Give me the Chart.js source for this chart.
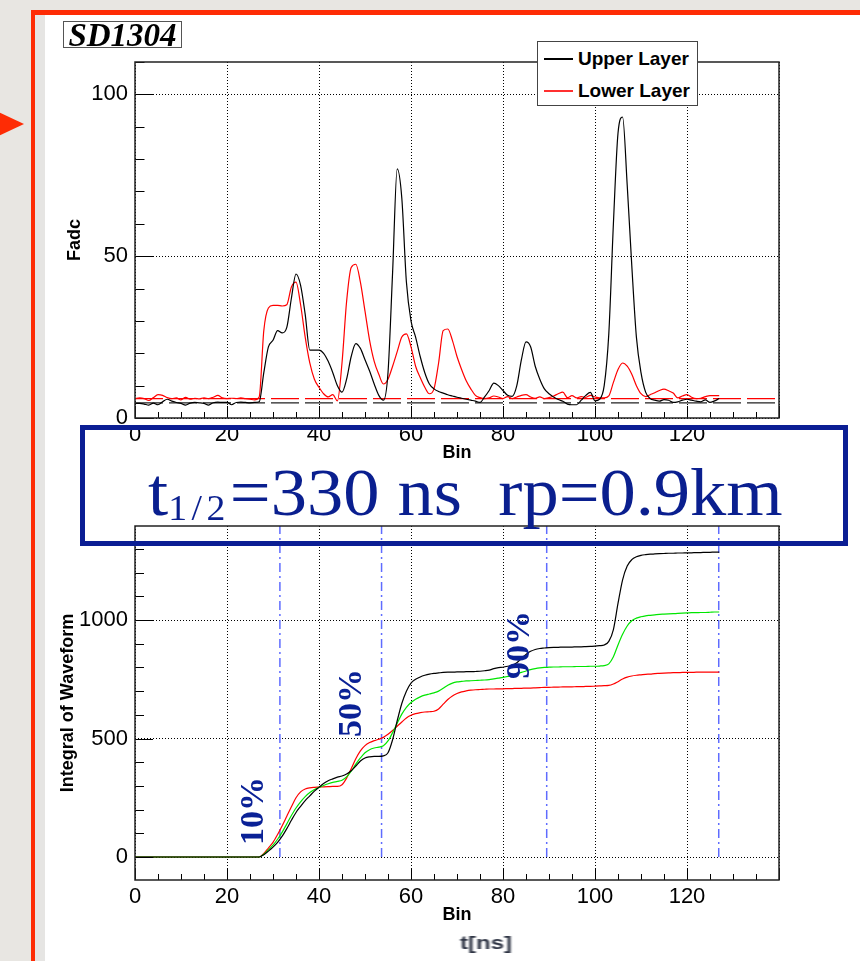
<!DOCTYPE html>
<html>
<head>
<meta charset="utf-8">
<script src="https://cdn.jsdelivr.net/npm/chart.js@4.4.1/dist/chart.umd.min.js"></script>
<style>
body { margin: 0; width: 860px; height: 961px; overflow: hidden; background: #e8e6e2; position: relative; font-family: "Liberation Sans", Arial, sans-serif; }
.abs { position: absolute; }
#paper { left: 35px; top: 15px; width: 825px; height: 946px; background: #fff; }
#strip { left: 35px; top: 15px; width: 10px; height: 946px; background: #e6e5e3; }
#redTop { left: 31px; top: 10px; width: 829px; height: 5px; background: #fe2c05; }
#redLeft { left: 31px; top: 10px; width: 4px; height: 951px; background: #fe2c05; }
#arrow { left: -6px; top: 110px; width: 30px; height: 28px; background: #fe2c05; clip-path: polygon(0 0, 100% 50%, 0 100%); }
canvas { position: absolute; left: 0; }
#sd { left: 63px; top: 21px; width: 117px; height: 25px; border: 1.5px solid #555; font: italic bold 33px "Liberation Serif", serif; line-height: 27px; text-align: center; color: #000; }
#legend { left: 537px; top: 41px; width: 159px; height: 63px; border: 1.5px solid #444; background: #fff; }
.lg-line { position: absolute; left: 6px; width: 29px; height: 1.5px; }
.lg-text { position: absolute; left: 40px; font: bold 19px "Liberation Sans", Arial, sans-serif; line-height: 20px; color: #000; white-space: nowrap; }
#box { left: 80px; top: 425px; width: 758px; height: 111px; border: 5px solid #0b1e94; }
#big { left: 148px; top: 459px; font: 67px "Liberation Serif", serif; line-height: 67px; color: #0a1f8f; white-space: pre; transform-origin: 0 0; }
#big sub { font-size: 0.52em; letter-spacing: 0.12em; vertical-align: baseline; position: relative; top: 0.15em; }
#tns { left: 460px; top: 933px; font: bold 18px "Liberation Sans", Arial, sans-serif; color: #2e3444; filter: blur(0.7px); transform-origin: 0 0; white-space: pre; }
</style>
</head>
<body>
<div id="paper" class="abs"></div>
<div id="strip" class="abs"></div>
<div id="redTop" class="abs"></div>
<div id="redLeft" class="abs"></div>
<div id="arrow" class="abs"></div>

<canvas id="chartTop" width="860" height="470" style="top:0"></canvas>
<canvas id="chartBottom" width="860" height="491" style="top:470px"></canvas>

<div id="sd" class="abs">SD1304</div>
<div id="legend" class="abs">
  <div class="lg-line" style="top:16px;background:#000"></div>
  <div class="lg-text" style="top:7px">Upper Layer</div>
  <div class="lg-line" style="top:48px;background:#ff3030"></div>
  <div class="lg-text" style="top:39px">Lower Layer</div>
</div>
<div id="box" class="abs"></div>
<div id="big" class="abs">t<sub>1/2</sub>=330 ns  rp=0.9km</div>
<div id="tns" class="abs">t[ns]</div>

<script>
// ---- data ----
const bins = Array.from({ length: 128 }, (_, i) => i);

// FADC traces (top panel)
const upperLayer = [
  4.5, 4.5, 4.3, 4.0, 4.6, 4.1, 5.0, 5.8, 5.2, 4.8,
  4.5, 4.0, 4.6, 4.8, 4.7, 4.5, 4.0, 4.7, 4.9, 4.8,
  4.8, 4.1, 4.8, 4.9, 4.8, 4.7, 4.8, 5.0, 14, 22,
  24, 27, 26.3, 28, 37, 44.5, 41, 32, 21, 21,
  21, 20, 17.5, 14, 10, 8, 12, 19, 23, 21.5,
  18, 14.5, 10.5, 7, 5.5, 14, 45, 77, 68, 42,
  30, 25, 19, 14, 10.5, 9, 8.2, 7.7, 7.2, 6.8,
  6.4, 6.1, 5.8, 5.5, 5.2, 4.8, 6.5, 8.5, 10.8, 10,
  8.5, 7, 6.7, 10, 18, 23.5, 22, 16, 12, 9,
  7.5, 6.5, 5.7, 5.2, 4.3, 4.1, 4.1, 5.5, 7, 7.9,
  5.3, 5.8, 10, 26, 60, 88, 93, 72, 47, 25,
  14, 8, 6, 5.5, 5.2, 5.7, 5.5, 4.8, 5, 5.5,
  5.8, 5.5, 5.2, 5.0, 5.6, 4.8, 5.3, 6
];
const lowerLayer = [
  6.0, 6.2, 6.0, 5.4, 6.3, 7.2, 7.0, 6.3, 6.0, 6.2,
  5.6, 6.4, 5.8, 6.1, 5.9, 6.2, 6.0, 6.4, 7.0, 6.2,
  6.0, 6.1, 6.0, 6.2, 6.0, 5.8, 5.6, 6.5, 27, 34,
  34.8, 34.8, 34.6, 35, 40.5, 42, 35, 25, 17, 12,
  9.5, 7.5, 6.5, 7.2, 5.3, 17, 36, 46.5, 47.5, 42,
  33, 24, 17.5, 13.5, 10.5, 12, 16, 20.5, 25, 26,
  22, 16, 12.5, 9.5, 7.5, 9, 17, 27, 27.5, 24,
  19, 15, 11.5, 9, 7, 6.3, 6.0, 6.2, 6.8, 6.5,
  6.0, 6.6, 6.0, 6.5, 7.0, 7.2, 6.5, 6.1, 6.5, 6.0,
  6.3, 6.8, 7.5, 8.0, 6.3, 6.9, 6.2, 6.6, 6.4, 7.0,
  6.5, 6.2, 6.2, 6.8, 11, 15, 17, 16, 13.5, 10,
  7.5, 6.6, 7.2, 7.8, 8.5, 8.9, 8.4, 7.7, 6.2, 6.8,
  7.2, 6.4, 6.0, 6.1, 6.6, 6.9, 6.9, 6.9
];
const baselineUpper = 4.7;
const baselineLower = 6.0;

// integrals (bottom panel)
const intUpper = [
  0, 0, 0, 0, 0, 0, 0, 0, 0, 0,
  0, 0, 0, 0, 0, 0, 0, 0, 0, 0,
  0, 0, 0, 0, 0, 0, 0, 0, 10, 25,
  42, 62, 88, 120, 155, 188, 214, 238, 258, 278,
  294, 310, 322, 330, 337, 342, 350, 364, 384, 405,
  418, 423, 425, 425, 427, 440, 495, 575, 648, 700,
  734, 750, 760, 767, 772, 775, 777, 779, 780, 780,
  781, 781, 782, 782, 783, 784, 786, 789, 795, 799,
  801, 805, 810, 820, 838, 855, 868, 876, 880, 882,
  884, 885, 885, 886, 886, 886, 887, 887, 888, 889,
  890, 892, 895, 910, 960, 1070, 1170, 1228, 1255, 1267,
  1273, 1276, 1278, 1279, 1280, 1281, 1282, 1282, 1283, 1283,
  1284, 1284, 1285, 1285, 1286, 1286, 1287, 1287
];
const intMean = [
  0, 0, 0, 0, 0, 0, 0, 0, 0, 0,
  0, 0, 0, 0, 0, 0, 0, 0, 0, 0,
  0, 0, 0, 0, 0, 0, 0, 0, 12, 30,
  50, 75, 105, 140, 175, 207, 233, 255, 272, 285,
  294, 302, 309, 315, 319, 324, 338, 362, 392, 418,
  440, 453, 460, 464, 470, 490, 525, 565, 603, 632,
  652, 666, 676, 683, 688, 693, 700, 712, 725, 734,
  739, 741, 743, 744, 745, 746, 747, 749, 752, 755,
  758, 762, 766, 772, 779, 785, 791, 795, 798, 800,
  801, 802, 802, 803, 803, 803, 804, 804, 804, 805,
  805, 806, 808, 815, 845, 895, 940, 975, 997, 1008,
  1014, 1018, 1020, 1022, 1024, 1025, 1026, 1027, 1028, 1029,
  1030, 1031, 1031, 1032, 1032, 1033, 1034, 1034
];
const intLower = [
  0, 0, 0, 0, 0, 0, 0, 0, 0, 0,
  0, 0, 0, 0, 0, 0, 0, 0, 0, 0,
  0, 0, 0, 0, 0, 0, 0, 0, 15, 38,
  62, 95, 132, 172, 212, 250, 275, 287, 292, 294,
  295, 296, 297, 298, 298, 305, 333, 373, 415, 448,
  470, 483, 491, 497, 505, 518, 534, 552, 570, 587,
  598, 605, 609, 612, 613, 615, 625, 645, 665, 680,
  690, 697, 701, 704, 706, 707, 708, 709, 709, 710,
  710, 711, 711, 712, 712, 713, 713, 714, 715, 716,
  716, 717, 717, 718, 718, 718, 719, 719, 720, 720,
  721, 722, 723, 724, 730, 740, 751, 759, 764, 767,
  769, 771, 772, 774, 775, 776, 777, 778, 778, 779,
  779, 779, 780, 780, 780, 780, 780, 780
];

// 10% / 50% / 90% / 100% marker bins and their labels
const markerBins = [31.5, 53.6, 89.5, 126.9];
const pctLabels = ['10%', '50%', '90%'];
const pctBins = [26.0, 47.3, 83.7];
const pctValues = [194, 650, 895];

// axis ranges and ticks
const binMin = 0, binMax = 140, binMinor = 5;
const binTicks = [0, 20, 40, 60, 80, 100, 120, 140];
const fadcMin = 0, fadcMax = 110, fadcMinor = 10;
const fadcTicks = [0, 50, 100];
const intMin = -97, intMax = 1397, intMinor = 100;
const intTicks = [0, 500, 1000];

Chart.defaults.font.family = '"Liberation Sans", Arial, sans-serif';
Chart.defaults.color = '#000';

const pts = (ys) => bins.map((b, i) => ({ x: b, y: ys[i] }));

// ROOT style frame with inward ticks
const rootAxes = {
  id: 'rootAxes',
  afterDatasetsDraw(chart, args, o) {
    const { ctx, chartArea: a, scales: { x, y } } = chart;
    ctx.save();
    ctx.strokeStyle = '#000';
    ctx.lineWidth = 1;
    ctx.beginPath();
    for (let v = x.min; v <= x.max; v += o.xMinor) {
      const px = Math.round(x.getPixelForValue(v)) + 0.5;
      const len = v % o.xMajor === 0 ? 12 : 6;
      ctx.moveTo(px, a.bottom);
      ctx.lineTo(px, a.bottom - len);
    }
    for (let v = Math.ceil(y.min / o.yMinor) * o.yMinor; v <= y.max; v += o.yMinor) {
      const py = Math.round(y.getPixelForValue(v)) + 0.5;
      const len = v % o.yMajor === 0 ? o.yMajorLen : o.yMajorLen / 2;
      ctx.moveTo(a.left, py);
      ctx.lineTo(a.left + len, py);
    }
    ctx.stroke();
    ctx.lineWidth = 1.5;
    ctx.strokeStyle = '#222';
    ctx.strokeRect(a.left, a.top, a.right - a.left, a.bottom - a.top);
    ctx.restore();
  }
};

// rotated percent labels
const pctText = {
  id: 'pctText',
  afterDraw(chart) {
    const { ctx, scales: { x, y } } = chart;
    ctx.save();
    ctx.fillStyle = '#0a2196';
    ctx.font = 'bold 34px "Liberation Serif", serif';
    ctx.textAlign = 'center';
    ctx.textBaseline = 'middle';
    pctLabels.forEach((t, i) => {
      ctx.save();
      ctx.translate(x.getPixelForValue(pctBins[i]), y.getPixelForValue(pctValues[i]));
      ctx.rotate(-Math.PI / 2);
      ctx.fillText(t, 0, 0);
      ctx.restore();
    });
    ctx.restore();
  }
};

const fixTicks = (list) => (s) => { s.ticks = list.map((v) => ({ value: v })); };

function xAxis(height, titlePad) {
  return {
    type: 'linear',
    min: binMin,
    max: binMax,
    afterBuildTicks: fixTicks(binTicks),
    afterFit: (s) => { s.height = height; },
    ticks: {
      padding: 4,
      font: { size: 22 },
      callback: (v) => (v === binMax ? '' : String(v))
    },
    grid: { color: '#000', lineWidth: 1, drawTicks: false },
    border: { display: false, dash: [1, 2] },
    title: { display: true, text: 'Bin', font: { size: 18, weight: 'bold' }, padding: { top: 0, bottom: titlePad } }
  };
}

function yAxis(min, max, tickList, title, titlePad) {
  return {
    type: 'linear',
    min: min,
    max: max,
    afterBuildTicks: fixTicks(tickList),
    afterFit: (s) => { s.width = 135; },
    ticks: { padding: 7, font: { size: 22 }, callback: (v) => String(v) },
    grid: { color: '#000', lineWidth: 1, drawTicks: false },
    border: { display: false, dash: [1, 2] },
    title: { display: true, text: title, font: { size: 18, weight: 'bold' }, padding: { top: titlePad, bottom: 0 } }
  };
}

const line = (label, data, color, extra) => Object.assign({
  label: label,
  data: data,
  borderColor: color,
  borderWidth: 1.2,
  pointRadius: 0,
  fill: false,
  cubicInterpolationMode: 'monotone'
}, extra || {});

new Chart(document.getElementById('chartTop'), {
  type: 'line',
  data: {
    datasets: [
      line('Upper Layer', pts(upperLayer), '#000'),
      line('Lower Layer', pts(lowerLayer), '#ff0000'),
      line('Upper base', [{ x: binMin, y: baselineUpper }, { x: binMax, y: baselineUpper }], '#222', { borderDash: [28, 6] }),
      line('Lower base', [{ x: binMin, y: baselineLower }, { x: binMax, y: baselineLower }], '#ff0000', { borderDash: [28, 6] })
    ]
  },
  options: {
    responsive: false,
    animation: false,
    devicePixelRatio: 1,
    layout: { padding: { top: 62, right: 81, left: 0, bottom: 0 } },
    plugins: {
      legend: { display: false },
      tooltip: { enabled: false },
      rootAxes: { xMinor: binMinor, xMajor: 20, yMinor: fadcMinor, yMajor: 50, yMajorLen: 19 }
    },
    scales: {
      x: xAxis(52, 6),
      y: yAxis(fadcMin, fadcMax, fadcTicks, 'Fadc', 64)
    }
  },
  plugins: [rootAxes]
});

const markers = markerBins.map((b, i) => line('m' + i, [{ x: b, y: 0 }, { x: b, y: intMax }], '#5f6cff',
  { borderDash: [9, 4, 2, 4], borderWidth: 1.5, cubicInterpolationMode: 'default' }));

new Chart(document.getElementById('chartBottom'), {
  type: 'line',
  data: {
    datasets: [
      line('Upper', pts(intUpper), '#000'),
      line('Sum', pts(intMean), '#00e600'),
      line('Lower', pts(intLower), '#ff0000')
    ].concat(markers)
  },
  options: {
    responsive: false,
    animation: false,
    devicePixelRatio: 1,
    layout: { padding: { top: 56, right: 81, left: 0, bottom: 0 } },
    plugins: {
      legend: { display: false },
      tooltip: { enabled: false },
      rootAxes: { xMinor: binMinor, xMajor: 20, yMinor: intMinor, yMajor: 500, yMajorLen: 18 }
    },
    scales: {
      x: xAxis(81, 35),
      y: yAxis(intMin, intMax, intTicks, 'Integral of Waveform', 57)
    }
  },
  plugins: [rootAxes, pctText]
});

// stretch the big label and the blurred unit label to their widths on the slide
const big = document.getElementById('big');
big.style.transform = 'scaleX(' + (635 / big.offsetWidth) + ')';
const tns = document.getElementById('tns');
tns.style.transform = 'scaleX(' + (52 / tns.offsetWidth) + ')';
</script>
</body>
</html>
